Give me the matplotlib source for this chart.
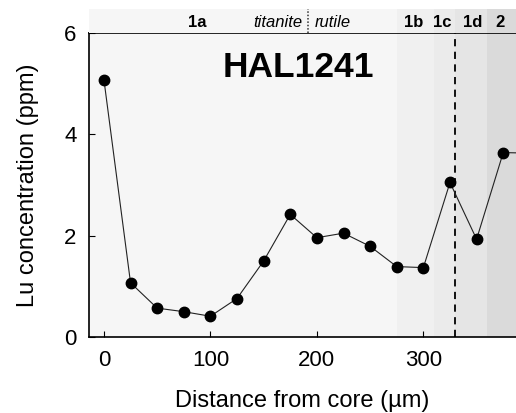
import numpy as np
import matplotlib
matplotlib.use("Agg")
import matplotlib.pyplot as plt

plt.rcParams['font.family'] = ['Liberation Sans', 'DejaVu Sans']

# Lu profile, HAL1241
distance = [0, 25, 50, 75, 100, 125, 150, 175, 200, 225, 250, 275, 300, 325, 350, 375, 400]
lu_ppm = [5.08, 1.07, 0.57, 0.50, 0.41, 0.76, 1.50, 2.42, 1.96, 2.05, 1.79, 1.39, 1.37, 3.05, 1.93, 3.64, 3.63]

# zones along the profile
zone_names = ['1a', '1b', '1c', '1d', '2']
zone_start = [-50, 275, 310, 330, 360]
zone_end = [275, 310, 330, 360, 450]
zone_colors = ['#f6f6f6', '#f0f0f0', '#ebebeb', '#e5e5e5', '#dadada']
zone_label_x = [88, 291, 318, 346, 372]

mineral_boundary = 192
boundary_dashed = 330

fig = plt.figure(figsize=(5.16, 4.13), dpi=100)
ax = fig.add_axes([0.1725, 0.184, 0.8275, 0.736])
hdr = fig.add_axes([0.1725, 0.920, 0.8275, 0.058], sharex=ax)

for a in (ax, hdr):
    for s, e, c in zip(zone_start, zone_end, zone_colors):
        a.axvspan(s, e, color=c, lw=0, zorder=0)

ax.plot(distance, lu_ppm, color='#222222', lw=0.8, marker='o', ms=7.5,
        mfc='black', mec='black', zorder=3, clip_on=True)
ax.axvline(boundary_dashed, color='black', ls=(0, (4, 3)), lw=1.3, zorder=2)

ax.set_xlim(-14, 387)
ax.set_ylim(0, 6)
ax.set_xticks([0, 100, 200, 300])
ax.set_yticks([0, 2, 4, 6])
ax.tick_params(direction='in', length=4, width=0.8, labelsize=16, pad=9)
ax.spines['right'].set_visible(False)
for sp in ('left', 'bottom', 'top'):
    ax.spines[sp].set_linewidth(1.2)
ax.set_xlabel('Distance from core (µm)', fontsize=17, labelpad=14)
ax.set_ylabel('Lu concentration (ppm)', fontsize=17, labelpad=18)

ax.text(183, 5.32, 'HAL1241', fontsize=25.5, fontweight='bold', ha='center', va='center')

# header strip
hdr.set_ylim(0, 1)
hdr.axis('off')
for name, xl in zip(zone_names, zone_label_x):
    hdr.text(xl, 0.45, name, fontsize=12, fontweight='bold', ha='center', va='center')
hdr.axvline(mineral_boundary, color='#333333', ls=(0, (1, 1.2)), lw=1.1)
hdr.text(mineral_boundary - 6, 0.45, 'titanite', fontsize=12, style='italic', ha='right', va='center')
hdr.text(mineral_boundary + 6, 0.45, 'rutile', fontsize=12, style='italic', ha='left', va='center')

fig.savefig('out.png', dpi=100)
